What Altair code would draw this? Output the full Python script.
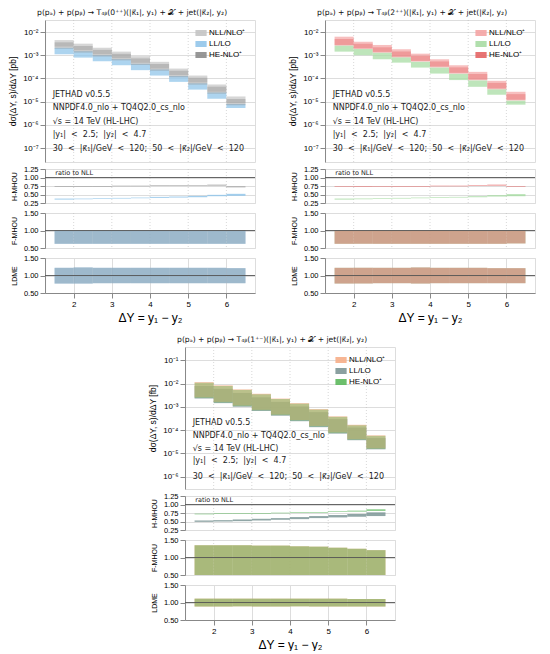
import altair as alt
import pandas as pd

FONT = "DejaVu Sans"
NB = "\u00a0"

BIN_LO = [1.5, 2.0, 2.5, 3.0, 3.5, 4.0, 4.5, 5.0, 5.5, 6.0]
BIN_HI = [2.0, 2.5, 3.0, 3.5, 4.0, 4.5, 5.0, 5.5, 6.0, 6.5]
X_TICKS = [2, 3, 4, 5, 6]
X_DOMAIN = [1.25, 6.75]
SERIES = ["NLL/NLO⁺", "LL/LO", "HE-NLO⁺"]

ANN_TEXT = [
    "JETHAD v0.5.5",
    "NNPDF4.0_nlo + TQ4Q2.0_cs_nlo",
    "√s = 14 TeV (HL-LHC)",
    "|y₁|" + NB + NB + "<" + NB + NB + "2.5;" + NB + NB + "|y₂|" + NB + NB + "<" + NB + NB + "4.7",
    "30" + NB + NB + "<" + NB + NB + "|κ⃗₁|/GeV" + NB + NB + "<" + NB + NB + "120;" + NB + NB
    + "50" + NB + NB + "<" + NB + NB + "|κ⃗₂|/GeV" + NB + NB + "<" + NB + NB + "120",
]

# ---------------- panel 1: T4b(0++) ----------------
P1_TITLE = "p(pₐ) + p(pᵦ) → T₄ᵦ(0⁺⁺)(|κ⃗₁|, y₁) + 𝒳 + jet(|κ⃗₂|, y₂)"
P1_NLL_HI = [4.5e-3, 3.15e-3, 2.1e-3, 1.43e-3, 9.1e-4, 5.2e-4, 2.66e-4, 1.33e-4, 5.5e-5, 1.67e-5]
P1_NLL_LO = [2.34e-3, 1.64e-3, 1.1e-3, 7.4e-4, 4.7e-4, 2.66e-4, 1.39e-4, 6.7e-5, 2.66e-5, 8.7e-6]
P1_HE_HI = [3.6e-3, 2.5e-3, 1.7e-3, 1.15e-3, 7.3e-4, 4.2e-4, 2.15e-4, 1.07e-4, 4.4e-5, 1.3e-5]
P1_HE_LO = [1.9e-3, 1.3e-3, 8.8e-4, 6.0e-4, 3.8e-4, 2.15e-4, 1.12e-4, 5.4e-5, 2.2e-5, 7.0e-6]
P1_LL_HI = [2.1e-3, 1.5e-3, 1.0e-3, 6.8e-4, 4.3e-4, 2.45e-4, 1.28e-4, 6.2e-5, 2.5e-5, 8.0e-6]
P1_LL_LO = [1.1e-3, 7.9e-4, 5.5e-4, 3.7e-4, 2.27e-4, 1.33e-4, 7.1e-5, 3.3e-5, 1.33e-5, 5.3e-6]
P1_H_LL_LO = [0.35, 0.36, 0.37, 0.38, 0.39, 0.40, 0.41, 0.42, 0.45, 0.46]
P1_H_LL_HI = [0.38, 0.38, 0.39, 0.40, 0.41, 0.43, 0.44, 0.46, 0.49, 0.52]
P1_H_HE_LO = [0.73, 0.73, 0.73, 0.74, 0.74, 0.75, 0.75, 0.76, 0.76, 0.71]
P1_H_HE_HI = [0.75, 0.75, 0.75, 0.76, 0.76, 0.77, 0.77, 0.78, 0.79, 0.74]
P1_F_LO = [0.62, 0.62, 0.62, 0.62, 0.62, 0.62, 0.62, 0.62, 0.62, 0.62]
P1_F_HI = [1.0, 1.0, 1.0, 1.0, 1.0, 1.0, 1.0, 1.0, 1.0, 1.0]
P1_L_LO = [0.77, 0.77, 0.78, 0.78, 0.78, 0.78, 0.78, 0.78, 0.78, 0.78]
P1_L_HI = [1.22, 1.23, 1.22, 1.22, 1.22, 1.22, 1.22, 1.22, 1.22, 1.21]
P1_COLORS = ["#c4c4c4", "#92c5ea", "#8c8c8c"]

# ---------------- panel 2: T4b(2++) ----------------
P2_TITLE = "p(pₐ) + p(pᵦ) → T₄ᵦ(2⁺⁺)(|κ⃗₁|, y₁) + 𝒳 + jet(|κ⃗₂|, y₂)"
P2_NLL_HI = [6.3e-3, 3.84e-3, 2.77e-3, 1.81e-3, 1.17e-3, 6.7e-4, 3.7e-4, 1.92e-4, 7.9e-5, 2.66e-5]
P2_NLL_LO = [2.77e-3, 2.0e-3, 1.39e-3, 8.7e-4, 5.7e-4, 3.24e-4, 1.74e-4, 9.0e-5, 3.7e-5, 1.21e-5]
P2_HE_HI = [5.0e-3, 3.1e-3, 2.2e-3, 1.45e-3, 9.4e-4, 5.4e-4, 3.0e-4, 1.55e-4, 6.4e-5, 2.1e-5]
P2_HE_LO = [2.6e-3, 1.85e-3, 1.28e-3, 8.1e-4, 5.3e-4, 3.0e-4, 1.6e-4, 8.4e-5, 3.4e-5, 1.12e-5]
P2_LL_HI = [2.6e-3, 1.85e-3, 1.28e-3, 8.1e-4, 5.2e-4, 2.95e-4, 1.58e-4, 8.2e-5, 3.4e-5, 1.1e-5]
P2_LL_LO = [1.43e-3, 1.0e-3, 6.7e-4, 4.8e-4, 2.94e-4, 1.62e-4, 8.5e-5, 4.35e-5, 1.98e-5, 7.4e-6]
P2_H_LL_LO = [0.35, 0.36, 0.37, 0.38, 0.39, 0.40, 0.41, 0.42, 0.44, 0.45]
P2_H_LL_HI = [0.38, 0.38, 0.39, 0.40, 0.41, 0.42, 0.43, 0.45, 0.48, 0.51]
P2_H_HE_LO = [0.72, 0.72, 0.72, 0.73, 0.73, 0.74, 0.74, 0.75, 0.76, 0.73]
P2_H_HE_HI = [0.74, 0.74, 0.74, 0.75, 0.75, 0.76, 0.76, 0.77, 0.79, 0.75]
P2_F_LO = [0.62, 0.62, 0.62, 0.62, 0.62, 0.62, 0.62, 0.62, 0.62, 0.63]
P2_F_HI = [1.0, 1.0, 1.0, 1.0, 1.0, 1.0, 1.0, 1.0, 1.0, 1.0]
P2_L_LO = [0.77, 0.77, 0.78, 0.78, 0.77, 0.78, 0.78, 0.78, 0.78, 0.78]
P2_L_HI = [1.22, 1.22, 1.22, 1.22, 1.23, 1.22, 1.22, 1.22, 1.21, 1.21]
P2_COLORS = ["#f4a4a4", "#a8dca4", "#e46464"]

# ---------------- panel 3: T4b(1+-) ----------------
P3_TITLE = "p(pₐ) + p(pᵦ) → T₄ᵦ(1⁺⁻)(|κ⃗₁|, y₁) + 𝒳 + jet(|κ⃗₂|, y₂)"
P3_NLL_HI = [1.17e-2, 8.5e-3, 5.7e-3, 3.7e-3, 2.3e-3, 1.46e-3, 8.1e-4, 3.95e-4, 1.71e-4, 6.0e-5]
P3_NLL_LO = [2.6e-3, 1.65e-3, 1.15e-3, 7.5e-4, 4.7e-4, 2.75e-4, 1.52e-4, 8.0e-5, 4.1e-5, 1.65e-5]
P3_HE_HI = [1.1e-2, 8.0e-3, 5.4e-3, 3.5e-3, 2.2e-3, 1.38e-3, 7.7e-4, 3.75e-4, 1.62e-4, 5.7e-5]
P3_HE_LO = [2.45e-3, 1.55e-3, 1.08e-3, 7.1e-4, 4.45e-4, 2.58e-4, 1.43e-4, 7.5e-5, 3.9e-5, 1.57e-5]
P3_LL_HI = [8.0e-3, 6.0e-3, 4.0e-3, 2.6e-3, 1.65e-3, 1.05e-3, 6.0e-4, 3.0e-4, 1.3e-4, 4.6e-5]
P3_LL_LO = [2.3e-3, 1.46e-3, 1.02e-3, 6.7e-4, 4.2e-4, 2.43e-4, 1.35e-4, 7.1e-5, 3.7e-5, 1.5e-5]
P3_H_LL_LO = [0.49, 0.50, 0.51, 0.53, 0.55, 0.57, 0.60, 0.62, 0.64, 0.66]
P3_H_LL_HI = [0.53, 0.54, 0.56, 0.58, 0.60, 0.63, 0.66, 0.69, 0.72, 0.77]
P3_H_HE_LO = [0.71, 0.72, 0.72, 0.73, 0.74, 0.75, 0.76, 0.78, 0.79, 0.81]
P3_H_HE_HI = [0.73, 0.74, 0.74, 0.75, 0.76, 0.77, 0.78, 0.80, 0.82, 0.86]
P3_F_LO = [0.45, 0.45, 0.45, 0.45, 0.45, 0.45, 0.45, 0.45, 0.45, 0.45]
P3_F_HI = [1.35, 1.35, 1.35, 1.34, 1.34, 1.32, 1.31, 1.28, 1.25, 1.21]
P3_L_LO = [0.885, 0.885, 0.89, 0.885, 0.885, 0.89, 0.885, 0.885, 0.885, 0.885]
P3_L_HI = [1.11, 1.11, 1.11, 1.11, 1.11, 1.11, 1.11, 1.11, 1.10, 1.10]
P3_COLORS = ["#f6ae88", "#7d9696", "#5cb85c"]

TOP_YDOM = [2.5e-8, 3.3e-2]
TOP_YTICKS = [1e-7, 1e-6, 1e-5, 1e-4, 1e-3, 1e-2]
TOP_ANN_Y = [1.9e-5, 5.1e-6, 1.38e-6, 3.5e-7, 8.7e-8]
BOT_YDOM = [2.95e-7, 0.38]
BOT_YTICKS = [1e-6, 1e-5, 1e-4, 1e-3, 1e-2, 1e-1]
BOT_ANN_Y = [2.0e-4, 5.6e-5, 1.55e-5, 4.5e-6, 1.0e-6]
ANN_X = 1.45

W = 210
H_MAIN = 142
H_SUB = [34, 35, 35]

SUP = "['⁰','¹','²','³','⁴','⁵','⁶','⁷','⁸','⁹']"
LOG_LABEL = "'10' + (datum.value < 1 ? '⁻' : '') + " + SUP + "[abs(round(log(datum.value)/LN10))]"

XSCALE = alt.Scale(domain=X_DOMAIN, nice=False, zero=False)


def x_enc(show):
    if show:
        ax = alt.Axis(values=X_TICKS, title="ΔY = y₁ − y₂", titleFontSize=12,
                      titleFontWeight=400, labelFontSize=8, titlePadding=4, format="d")
        return alt.X("x0:Q", scale=XSCALE, axis=ax)
    return alt.X("x0:Q", scale=XSCALE, axis=None)


def vgrid():
    gdf = pd.DataFrame({"x0": X_TICKS})
    return alt.Chart(gdf).mark_rule(color="#bdbdbd", strokeWidth=0.6,
                                    strokeDash=[1, 2]).encode(x=x_enc(False))


def main_chart(nll, ll, he, colors, unit, ydom, yticks, ann_y):
    yenc = alt.Y("lo:Q", scale=alt.Scale(type="log", domain=ydom, nice=False),
                 axis=alt.Axis(values=yticks, labelExpr=LOG_LABEL,
                               title="dσ(ΔY, s)/dΔY  [" + unit + "]", titleFontWeight=400,
                               titleFontSize=8.5, titlePadding=5, labelFontSize=8))
    cscale = alt.Scale(domain=SERIES, range=colors)
    legend = alt.Legend(orient="top-right", title=None, labelFontSize=8,
                        symbolType="M-1.5,-0.8H1.5V0.8H-1.5Z", symbolSize=56,
                        symbolStrokeWidth=0, symbolOpacity=0.9, rowPadding=3,
                        offset=9, padding=0, labelOffset=4)
    layers = [vgrid()]
    order = [(1, ll, 0.75), (0, nll, 0.7), (2, he, 0.4)]
    for idx, (lo, hi), op in order:
        df = pd.DataFrame({"x0": BIN_LO, "x1": BIN_HI, "lo": lo, "hi": hi,
                           "series": [SERIES[idx]] * len(BIN_LO)})
        layers.append(
            alt.Chart(df).mark_rect(opacity=op, clip=True).encode(
                x=x_enc(False), x2="x1", y=yenc, y2="hi",
                color=alt.Color("series:N", scale=cscale, legend=legend, sort=SERIES),
            )
        )
    ann = pd.DataFrame({"x0": [ANN_X] * len(ANN_TEXT), "lo": ann_y, "t": ANN_TEXT})
    layers.append(
        alt.Chart(ann).mark_text(align="left", baseline="middle", font=FONT,
                                 fontSize=8, color="#222").encode(
            x=x_enc(False), y=yenc, text="t:N")
    )
    return alt.layer(*layers).properties(width=W, height=H_MAIN)


def ratio_chart(bands, title, ydom, yvals, height, show_x, ratio_text):
    yenc = alt.Y("lo:Q", scale=alt.Scale(domain=ydom, nice=False, zero=False),
                 axis=alt.Axis(values=yvals, format=".2f", title=title, titleFontSize=7,
                               titleFontWeight=400, labelFontSize=7.5, labelOverlap=False,
                               titlePadding=6))
    layers = [] if show_x else [vgrid()]
    for (lo, hi, col, op) in bands:
        df = pd.DataFrame({"x0": BIN_LO, "x1": BIN_HI, "lo": lo, "hi": hi})
        layers.append(
            alt.Chart(df).mark_rect(color=col, opacity=op, clip=True).encode(
                x=x_enc(show_x), x2="x1", y=yenc, y2="hi")
        )
    rule_df = pd.DataFrame({"lo": [1.0]})
    layers.append(alt.Chart(rule_df).mark_rule(color="#555", strokeWidth=0.9).encode(y=yenc))
    if ratio_text:
        tdf = pd.DataFrame({"x0": [1.52], "lo": [1.13], "t": ["ratio to NLL"]})
        layers.append(
            alt.Chart(tdf).mark_text(align="left", baseline="middle", font=FONT,
                                     fontSize=6.5, color="#222").encode(
                x=x_enc(show_x), y=yenc, text="t:N")
        )
    return alt.layer(*layers).properties(width=W, height=height)


def panel(title, colors, unit, ydom, yticks, ann_y, nll, ll, he, hll, hhe, fb, lb, f_order):
    m = main_chart(nll, ll, he, colors, unit, ydom, yticks, ann_y)
    h = ratio_chart([(hll[0], hll[1], colors[1], 0.85), (hhe[0], hhe[1], colors[2], 0.7)],
                    "H-MHOU", [0.25, 1.25], [0.25, 0.5, 0.75, 1.0, 1.25], H_SUB[0], False, True)
    f_bands = [(fb[0], fb[1], colors[i], op) for i, op in f_order]
    l_bands = [(lb[0], lb[1], colors[i], op) for i, op in f_order]
    f = ratio_chart(f_bands, "F-MHOU", [0.5, 1.5], [0.5, 1.0, 1.5], H_SUB[1], False, False)
    l = ratio_chart(l_bands, "LDME", [0.5, 1.5], [0.5, 1.0, 1.5], H_SUB[2], True, False)
    return alt.vconcat(m, h, f, l, spacing=1).resolve_scale(
        x="independent", y="independent", color="independent"
    ).properties(title=alt.TitleParams(title, fontSize=7.6, font=FONT, fontWeight=400,
                                       anchor="middle", offset=3, color="#111"))


p1 = panel(P1_TITLE, P1_COLORS, "pb", TOP_YDOM, TOP_YTICKS, TOP_ANN_Y,
           (P1_NLL_LO, P1_NLL_HI), (P1_LL_LO, P1_LL_HI), (P1_HE_LO, P1_HE_HI),
           (P1_H_LL_LO, P1_H_LL_HI), (P1_H_HE_LO, P1_H_HE_HI),
           (P1_F_LO, P1_F_HI), (P1_L_LO, P1_L_HI), [(1, 0.8), (2, 0.35)])
p2 = panel(P2_TITLE, P2_COLORS, "pb", TOP_YDOM, TOP_YTICKS, TOP_ANN_Y,
           (P2_NLL_LO, P2_NLL_HI), (P2_LL_LO, P2_LL_HI), (P2_HE_LO, P2_HE_HI),
           (P2_H_LL_LO, P2_H_LL_HI), (P2_H_HE_LO, P2_H_HE_HI),
           (P2_F_LO, P2_F_HI), (P2_L_LO, P2_L_HI), [(1, 0.8), (2, 0.5)])
p3 = panel(P3_TITLE, P3_COLORS, "fb", BOT_YDOM, BOT_YTICKS, BOT_ANN_Y,
           (P3_NLL_LO, P3_NLL_HI), (P3_LL_LO, P3_LL_HI), (P3_HE_LO, P3_HE_HI),
           (P3_H_LL_LO, P3_H_LL_HI), (P3_H_HE_LO, P3_H_HE_HI),
           (P3_F_LO, P3_F_HI), (P3_L_LO, P3_L_HI), [(0, 0.85), (2, 0.5)])

top = alt.hconcat(p1, p2, spacing=32).resolve_scale(
    x="independent", y="independent", color="independent")

chart = alt.vconcat(top, p3, spacing=11, center=True).resolve_scale(
    x="independent", y="independent", color="independent"
).properties(padding=0).configure_view(stroke="#333", strokeWidth=0.8).configure_axis(
    labelFont=FONT, titleFont=FONT, titleFontWeight=400, labelColor="#222",
    titleColor="#222", domain=False, ticks=False, labelPadding=3,
    grid=True, gridDash=[1, 2], gridColor="#bdbdbd", gridWidth=0.6
).configure_legend(labelFont=FONT, labelColor="#222").configure(background="white")

chart.save("out.html", embed_options={"renderer": "svg", "actions": False})
